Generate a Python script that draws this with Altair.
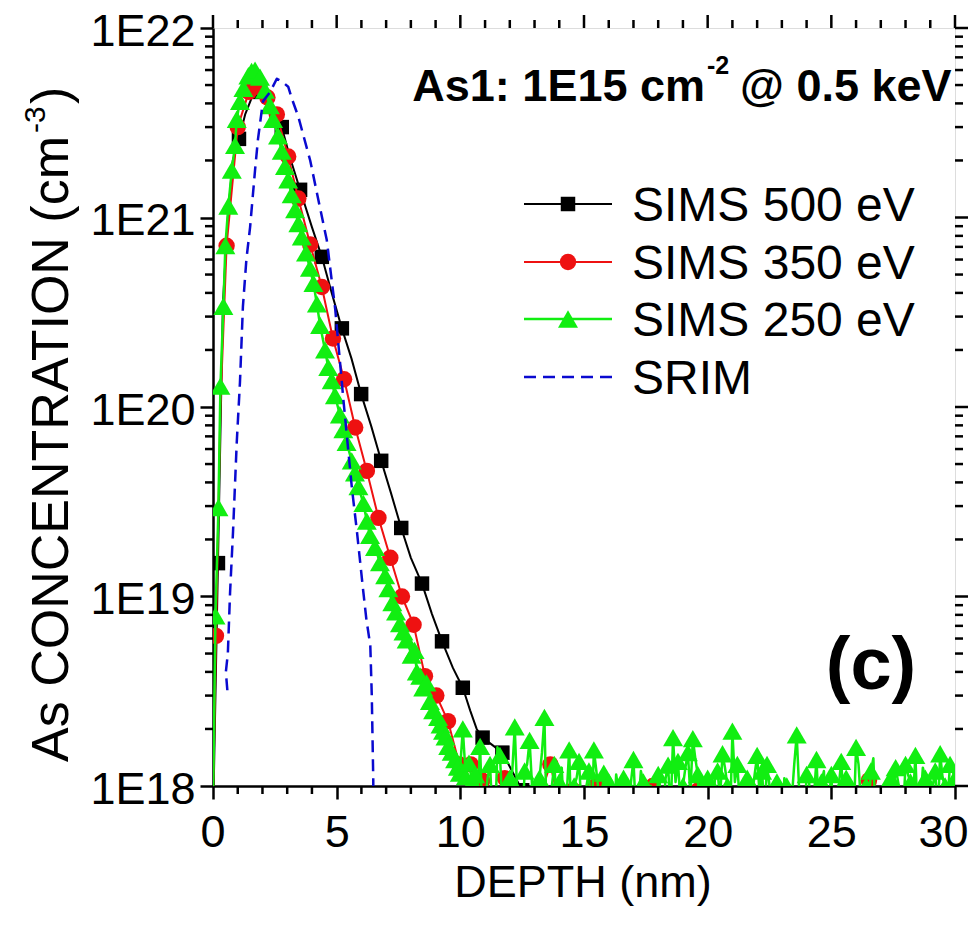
import altair as alt
import pandas as pd

# ------------------------------------------------------------------ data
# (depth nm, concentration cm^-3, 1 = draw a symbol)
BLACK = [
    (0.00, 6.3e17, 0), (0.20, 1.5e19, 1), (0.40, 3.5e20, 0), (0.60, 1.0e21, 0),
    (0.80, 2.0e21, 0), (1.05, 2.6e21, 1), (1.30, 3.5e21, 0), (1.60, 4.4e21, 0),
    (1.90, 4.6e21, 1), (2.20, 4.2e21, 0), (2.50, 3.5e21, 0), (2.78, 3.0e21, 1),
    (3.10, 2.1e21, 0), (3.52, 1.4e21, 1), (4.00, 8.9e20, 0), (4.40, 6.2e20, 1),
    (4.80, 4.0e20, 0), (5.21, 2.6e20, 1), (5.60, 1.8e20, 0), (5.99, 1.17e20, 1),
    (6.40, 7.9e19, 0), (6.80, 5.2e19, 1), (7.20, 3.5e19, 0), (7.61, 2.3e19, 1),
    (8.00, 1.6e19, 0), (8.45, 1.17e19, 1), (8.85, 8.1e18, 0), (9.26, 5.8e18, 1),
    (9.70, 4.2e18, 0), (10.10, 3.3e18, 1), (10.40, 2.5e18, 0), (10.66, 2.0e18, 0),
    (10.90, 1.8e18, 1), (11.70, 1.5e18, 1), (12.50, 0.95e18, 1), (13.30, 0.8e18, 1),
    (14.10, 0.9e18, 1), (14.90, 0.85e18, 1), (15.70, 0.75e18, 1), (16.50, 0.9e18, 1),
    (17.30, 0.8e18, 1), (18.10, 0.85e18, 1), (18.90, 0.7e18, 1), (19.70, 0.9e18, 1),
    (20.50, 0.8e18, 1), (21.30, 0.75e18, 1), (22.10, 0.9e18, 1), (22.90, 0.8e18, 1),
    (23.70, 0.85e18, 1), (24.50, 0.7e18, 1), (25.30, 0.9e18, 1), (26.10, 0.8e18, 1),
    (26.90, 0.75e18, 1), (27.70, 0.9e18, 1), (28.50, 0.8e18, 1), (29.30, 0.85e18, 1),
    (30.00, 0.8e18, 0),
]

RED = [
    (0.00, 8.0e17, 0), (0.12, 6.2e18, 1), (0.30, 1.0e20, 0), (0.55, 7.1e20, 1),
    (1.00, 3.0e21, 1), (1.45, 4.6e21, 1), (1.85, 4.9e21, 1), (2.20, 4.3e21, 1),
    (2.58, 3.5e21, 1), (3.04, 2.1e21, 1), (3.45, 1.26e21, 1), (3.93, 7.2e20, 1),
    (4.40, 4.3e20, 1), (4.85, 2.3e20, 1), (5.30, 1.4e20, 1), (5.75, 7.8e19, 1),
    (6.22, 4.6e19, 1), (6.69, 2.6e19, 1), (7.17, 1.6e19, 1), (7.64, 1.0e19, 1),
    (8.11, 7.1e18, 1), (8.57, 3.8e18, 1), (9.03, 3.0e18, 1), (9.50, 2.2e18, 1),
    (9.96, 1.3e18, 1), (10.42, 1.3e18, 1), (10.88, 1.07e18, 1), (11.34, 0.8e18, 1),
    (11.80, 1.1e18, 1), (12.26, 0.7e18, 1), (12.72, 0.9e18, 1), (13.18, 0.85e18, 1),
    (13.64, 1.3e18, 1), (14.10, 0.7e18, 1), (14.56, 0.95e18, 1), (15.02, 0.8e18, 1),
    (15.48, 1.0e18, 1), (15.94, 0.75e18, 1), (16.40, 0.9e18, 1), (16.86, 0.85e18, 1),
    (17.32, 0.7e18, 1), (17.78, 1.0e18, 1), (18.24, 0.8e18, 1), (18.70, 0.9e18, 1),
    (19.16, 0.7e18, 1), (19.62, 0.95e18, 1), (20.08, 0.8e18, 1), (20.54, 0.85e18, 1),
    (21.00, 0.7e18, 1), (21.46, 0.9e18, 1), (21.92, 0.8e18, 1), (22.38, 0.75e18, 1),
    (22.84, 0.95e18, 1), (23.30, 0.8e18, 1), (23.76, 0.7e18, 1), (24.22, 0.9e18, 1),
    (24.68, 0.8e18, 1), (25.14, 0.75e18, 1), (25.60, 0.9e18, 1), (26.06, 0.8e18, 1),
    (26.52, 1.07e18, 1), (26.98, 0.8e18, 1), (27.44, 0.9e18, 1), (27.90, 0.7e18, 1),
    (28.36, 0.85e18, 1), (28.82, 0.8e18, 1), (29.28, 0.9e18, 1), (29.74, 0.75e18, 1),
]

# SIMS 250 eV: points that carry a triangle symbol
GREEN = [
    (0.00, 7.9e17), (0.10, 7.9e18), (0.22, 2.95e19), (0.30, 1.29e20), (0.42, 3.4e20),
    (0.50, 7.1e20), (0.62, 1.15e21), (0.76, 1.78e21), (0.89, 2.4e21), (0.96, 3.3e21),
    (1.09, 4.1e21), (1.23, 4.8e21), (1.43, 5.6e21), (1.56, 5.9e21), (1.70, 6.0e21),
    (1.90, 5.5e21), (2.10, 4.7e21), (2.30, 3.9e21), (2.43, 3.3e21), (2.63, 2.7e21),
    (2.78, 2.24e21), (2.91, 1.86e21), (3.04, 1.58e21), (3.18, 1.32e21), (3.32, 1.10e21),
    (3.45, 9.3e20), (3.59, 7.9e20), (3.76, 6.5e20), (3.92, 5.4e20), (4.06, 4.5e20),
    (4.20, 3.5e20), (4.33, 2.7e20), (4.53, 2.0e20), (4.66, 1.62e20), (4.80, 1.38e20),
    (4.93, 1.15e20), (5.13, 9.1e19), (5.27, 7.6e19), (5.40, 6.5e19), (5.61, 5.2e19),
    (5.74, 4.5e19), (5.88, 3.8e19), (6.08, 3.1e19), (6.22, 2.5e19), (6.35, 2.1e19),
    (6.55, 1.82e19), (6.75, 1.51e19), (6.96, 1.29e19), (7.09, 1.10e19), (7.25, 9.3e18),
    (7.40, 8.3e18), (7.56, 7.2e18), (7.70, 6.5e18), (7.83, 5.9e18), (8.03, 4.9e18),
    (8.15, 5.2e18), (8.24, 4.0e18), (8.38, 3.8e18), (8.50, 3.3e18), (8.63, 3.5e18),
    (8.77, 2.8e18), (8.90, 2.5e18), (9.10, 2.3e18), (9.20, 2.1e18), (9.30, 1.95e18),
    (9.40, 1.82e18), (9.51, 1.62e18), (9.65, 1.51e18), (9.79, 1.38e18), (9.90, 1.26e18),
    (9.98, 1.17e18), (10.10, 2.0e18), (10.22, 1.12e18), (10.35, 1.32e18), (10.48, 1.05e18),
    (10.6, 1.15e18), (10.8, 1.62e18), (11.0, 0.8e18), (11.2, 1.3e18), (11.4, 0.6e18),
    (11.6, 1.45e18), (11.8, 0.9e18), (12.0, 1.1e18), (12.2, 2.05e18), (12.4, 0.7e18),
    (12.6, 1.2e18), (12.8, 1.74e18), (13.0, 0.85e18), (13.2, 1.1e18), (13.4, 2.3e18),
    (13.6, 0.75e18), (13.8, 1.3e18), (14.0, 1.05e18), (14.2, 0.65e18), (14.4, 1.55e18),
    (14.6, 1.0e18), (14.8, 1.35e18), (15.0, 0.7e18), (15.2, 1.2e18), (15.4, 1.55e18),
    (15.6, 0.9e18), (15.8, 1.17e18), (16.0, 1.05e18), (16.2, 0.6e18), (16.4, 0.95e18),
    (16.6, 1.1e18), (16.8, 0.7e18), (17.0, 1.38e18), (17.2, 0.8e18), (17.4, 1.05e18),
    (17.6, 0.6e18), (17.8, 0.9e18), (18.0, 1.15e18), (18.2, 0.75e18), (18.4, 1.29e18),
    (18.6, 1.8e18), (18.8, 1.35e18), (19.0, 1.0e18), (19.2, 1.5e18), (19.4, 1.78e18),
    (19.6, 1.15e18), (19.8, 0.65e18), (20.0, 1.1e18), (20.2, 0.8e18), (20.4, 1.2e18),
    (20.6, 1.48e18), (20.8, 1.0e18), (21.0, 1.95e18), (21.2, 1.3e18), (21.4, 0.7e18),
    (21.6, 1.1e18), (21.8, 0.9e18), (22.0, 1.45e18), (22.2, 1.2e18), (22.4, 1.3e18),
    (22.6, 0.75e18), (22.8, 1.05e18), (23.0, 0.6e18), (23.2, 1.0e18), (23.4, 0.85e18),
    (23.6, 1.86e18), (23.8, 0.9e18), (24.0, 1.15e18), (24.2, 0.7e18), (24.4, 1.38e18),
    (24.6, 1.05e18), (24.8, 0.65e18), (25.0, 1.15e18), (25.2, 0.9e18), (25.4, 1.35e18),
    (25.6, 1.1e18), (25.8, 0.7e18), (26.0, 1.6e18), (26.2, 0.8e18), (26.4, 1.0e18),
    (26.6, 1.2e18), (26.8, 0.6e18), (27.0, 0.75e18), (27.2, 0.95e18), (27.4, 1.1e18),
    (27.6, 1.25e18), (27.8, 0.9e18), (28.0, 1.3e18), (28.2, 1.05e18), (28.4, 1.45e18),
    (28.6, 0.8e18), (28.8, 1.1e18), (29.0, 0.95e18), (29.2, 1.2e18), (29.4, 1.48e18),
    (29.6, 1.0e18), (29.8, 1.3e18), (30.0, 1.1e18),
]

# SIMS 250 eV: in-between noise points of the line, drawn without a symbol
GREEN_NOISE = [
    (10.7, 0.9e18), (10.9, 0.6e18), (11.1, 1.1e18), (11.3, 0.7e18), (11.5, 1.6e18),
    (11.7, 0.8e18), (11.9, 0.55e18), (12.1, 1.2e18), (12.3, 0.9e18), (12.5, 0.6e18),
    (12.7, 1.3e18), (12.9, 1.0e18), (13.1, 0.7e18), (13.3, 1.5e18), (13.5, 0.55e18),
    (13.7, 1.0e18), (13.9, 0.8e18), (14.1, 1.25e18), (14.3, 0.9e18), (14.5, 0.6e18),
    (14.7, 1.1e18), (14.9, 0.75e18), (15.1, 1.0e18), (15.3, 0.6e18), (15.5, 1.2e18),
    (15.7, 0.8e18), (15.9, 1.0e18), (16.1, 0.7e18), (16.3, 1.15e18), (16.5, 0.55e18),
    (16.7, 0.9e18), (16.9, 1.05e18), (17.1, 0.7e18), (17.3, 1.2e18), (17.5, 0.85e18),
    (17.7, 1.0e18), (17.9, 0.6e18), (18.1, 0.95e18), (18.3, 1.1e18), (18.5, 0.7e18),
    (18.7, 1.05e18), (18.9, 0.8e18), (19.1, 1.25e18), (19.3, 0.9e18), (19.5, 1.4e18),
    (19.7, 0.6e18), (19.9, 0.95e18), (20.1, 0.7e18), (20.3, 1.1e18), (20.5, 0.85e18),
    (20.7, 1.25e18), (20.9, 0.6e18), (21.1, 1.05e18), (21.3, 0.8e18), (21.5, 1.0e18),
    (21.7, 0.6e18), (21.9, 1.15e18), (22.1, 0.9e18), (22.3, 0.7e18), (22.5, 1.0e18),
    (22.7, 0.85e18), (22.9, 0.6e18), (23.1, 1.1e18), (23.3, 0.75e18), (23.5, 1.3e18),
    (23.7, 0.95e18), (23.9, 0.6e18), (24.1, 1.05e18), (24.3, 0.9e18), (24.5, 0.7e18),
    (24.7, 1.2e18), (24.9, 0.85e18), (25.1, 0.6e18), (25.3, 1.0e18), (25.5, 0.8e18),
    (25.7, 1.05e18), (25.9, 0.65e18), (26.1, 1.3e18), (26.3, 0.9e18), (26.5, 0.7e18),
    (26.7, 1.4e18), (26.9, 0.8e18), (27.1, 1.0e18), (27.3, 0.6e18), (27.5, 0.9e18),
    (27.7, 1.05e18), (27.9, 0.7e18), (28.1, 1.15e18), (28.3, 0.85e18), (28.5, 0.6e18),
    (28.7, 1.25e18), (28.9, 0.8e18), (29.1, 1.0e18), (29.3, 0.7e18), (29.5, 1.1e18),
    (29.7, 0.85e18), (29.9, 1.2e18),
]

SRIM = [
    (0.58, 3.2e18), (0.52, 4.0e18), (0.60, 5.0e18), (0.69, 1.05e19), (0.81, 2.2e19),
    (0.96, 6.5e19), (1.09, 1.35e20), (1.21, 3.4e20), (1.35, 6.0e20), (1.50, 8.9e20),
    (1.70, 1.78e21), (1.82, 2.6e21), (2.02, 4.1e21), (2.31, 4.6e21), (2.58, 5.4e21),
    (2.80, 5.2e21), (3.04, 4.9e21), (3.20, 4.2e21), (3.45, 3.4e21), (3.93, 2.0e21),
    (4.20, 1.35e21), (4.60, 7.6e20), (4.94, 3.3e20), (5.27, 1.1e20), (5.61, 3.8e19),
    (5.82, 2.2e19), (6.08, 1.05e19), (6.20, 7.6e18), (6.36, 5.5e18), (6.42, 3.0e18),
    (6.48, 1.07e18), (6.50, 3.2e17),
]

X_TICKS = [0, 5, 10, 15, 20, 25, 30]
X_MINOR = [v for v in range(1, 30) if v % 5 != 0]
Y_TICKS = [1e18, 1e19, 1e20, 1e21, 1e22]
Y_MINOR = [m * 10.0 ** e for e in range(18, 22) for m in range(2, 10)]

LEGEND = ["SIMS 500 eV", "SIMS 350 eV", "SIMS 250 eV", "SRIM"]
COLORS = ["#000000", "#ee1111", "#11ee11", "#0a0ad0"]

# ------------------------------------------------------------------ layout
FONT = "Liberation Sans"
W, H = 742, 758

XS = alt.Scale(domain=[0, 30], nice=False, zero=False)
YS = alt.Scale(type="log", domain=[1e18, 1e22], nice=False)

XAX = alt.Axis(values=X_TICKS, title=None, grid=False, labelFontSize=45, labelFont=FONT,
               labelColor="black", tickSize=13, tickWidth=2.5, tickColor="black",
               domainColor="black", domainWidth=2.5, labelPadding=11, labelFlush=True,
               labelFlushOffset=13, labelAngle=0, labelOverlap=False, format="d")
YAX = alt.Axis(values=Y_TICKS, title=None, grid=False, labelFontSize=45, labelFont=FONT,
               labelColor="black", tickSize=13, tickWidth=2.5, tickColor="black",
               domainColor="black", domainWidth=2.5, labelPadding=5, labelFlush=False,
               labelOverlap=False, labelOffset=3,
               labelExpr="'1E' + format(log(datum.value) / LN10, '.0f')")


def X():
    return alt.X("depth:Q", scale=XS, axis=XAX)


def Y():
    return alt.Y("conc:Q", scale=YS, axis=YAX)


def frame(rows):
    df = pd.DataFrame(rows, columns=["depth", "conc", "mark"])
    df["idx"] = range(len(df))
    return df


def line(df, color, width, dash=None):
    kw = dict(color=color, strokeWidth=width, clip=True, strokeJoin="round")
    if dash:
        kw["strokeDash"] = dash
    return alt.Chart(df).mark_line(**kw).encode(x=X(), y=Y(), order="idx:Q")


def pts(df, color, shape, size):
    return (alt.Chart(df).transform_filter("datum.mark == 1")
            .mark_point(shape=shape, filled=True, size=size, color=color, opacity=1,
                        strokeWidth=0, clip=True)
            .encode(x=X(), y=Y()))


black_df = frame(BLACK)
red_df = frame(RED)
green_rows = [(d, c, 1) for d, c in GREEN] + [(d, c, 0) for d, c in GREEN_NOISE]
green_df = frame(sorted(green_rows))
srim_df = frame([(d, c, 0) for d, c in SRIM])

layers = [
    line(black_df, COLORS[0], 2), pts(black_df, COLORS[0], "square", 210),
    line(red_df, COLORS[1], 2), pts(red_df, COLORS[1], "circle", 270),
    line(green_df, COLORS[2], 2.5), pts(green_df, COLORS[2], "triangle-up", 400),
    line(srim_df, COLORS[3], 2.5, dash=[12, 7]),
]

# ---- extra ticks (minor ticks and mirrored ticks on top/right)
xminor = pd.DataFrame({"depth": X_MINOR})
xmajor = pd.DataFrame({"depth": X_TICKS})
yminor = pd.DataFrame({"conc": Y_MINOR})
ymajor = pd.DataFrame({"conc": Y_TICKS})
rk = dict(color="black", strokeWidth=2.5)
layers += [
    alt.Chart(xminor).mark_rule(**rk).encode(x=X(), y=alt.value(H), y2=alt.value(H + 8)),
    alt.Chart(xminor).mark_rule(**rk).encode(x=X(), y=alt.value(0), y2=alt.value(-8)),
    alt.Chart(xmajor).mark_rule(**rk).encode(x=X(), y=alt.value(0), y2=alt.value(-13)),
    alt.Chart(yminor).mark_rule(**rk).encode(y=Y(), x=alt.value(0), x2=alt.value(-8)),
    alt.Chart(yminor).mark_rule(**rk).encode(y=Y(), x=alt.value(W), x2=alt.value(W + 8)),
    alt.Chart(ymajor).mark_rule(**rk).encode(y=Y(), x=alt.value(W), x2=alt.value(W + 13)),
]

DUMMY = pd.DataFrame({"a": [0]})


def txt(s, x, y, size, weight="normal", align="left", baseline="alphabetic", angle=0,
        clip=False):
    return (alt.Chart(DUMMY)
            .mark_text(text=s, fontSize=size, fontWeight=weight, font=FONT, align=align,
                       baseline=baseline, angle=angle, color="black", clip=clip)
            .encode(x=alt.value(x), y=alt.value(y)))


# ---- legend
LX1, LX2, LMX, LTX = 311, 399, 355, 419
ROWS = [176, 234, 291, 349]
SHAPES = ["square", "circle", "triangle-up", None]
SIZES = [210, 270, 400, 0]
for i, name in enumerate(LEGEND):
    rkw = dict(color=COLORS[i], strokeWidth=2.5 if i >= 2 else 2)
    if i == 3:
        rkw["strokeDash"] = [12, 7]
    layers.append(alt.Chart(DUMMY).mark_rule(**rkw).encode(
        x=alt.value(LX1), x2=alt.value(LX2), y=alt.value(ROWS[i])))
    if SHAPES[i]:
        layers.append(alt.Chart(DUMMY).mark_point(
            shape=SHAPES[i], filled=True, size=SIZES[i], color=COLORS[i], opacity=1,
            strokeWidth=0).encode(x=alt.value(LMX), y=alt.value(ROWS[i])))
    layers.append(txt(name, LTX, ROWS[i] + 3, 48, baseline="middle"))

# ---- annotations
layers += [
    txt("As1: 1E15 cm", 492, 73, 45, weight="bold", align="right"),
    txt("-2", 494, 46, 25, weight="bold"),
    txt("@ 0.5 keV", 527, 73, 45, weight="bold", clip=True),
    txt("(c)", 658, 661, 74, weight="bold", align="center"),
    # axis titles
    txt("DEPTH (nm)", 370, 869, 45, align="center"),
    txt("As CONCENTRATION (cm", -145, 108, 52, align="right", angle=270),
    txt("-3", -168, 105, 30, align="left", angle=270),
    txt(")", -145, 76, 52, align="left", angle=270),
]

chart = (alt.layer(*layers)
         .properties(width=W, height=H,
                     padding={"left": 205, "top": 20, "right": 15, "bottom": 140},
                     autosize=alt.AutoSizeParams(type="none"))
         .configure_view(stroke="black", strokeWidth=2.5)
         .configure(background="white"))

chart.save("out.html", embed_options={"renderer": "svg", "actions": False})
